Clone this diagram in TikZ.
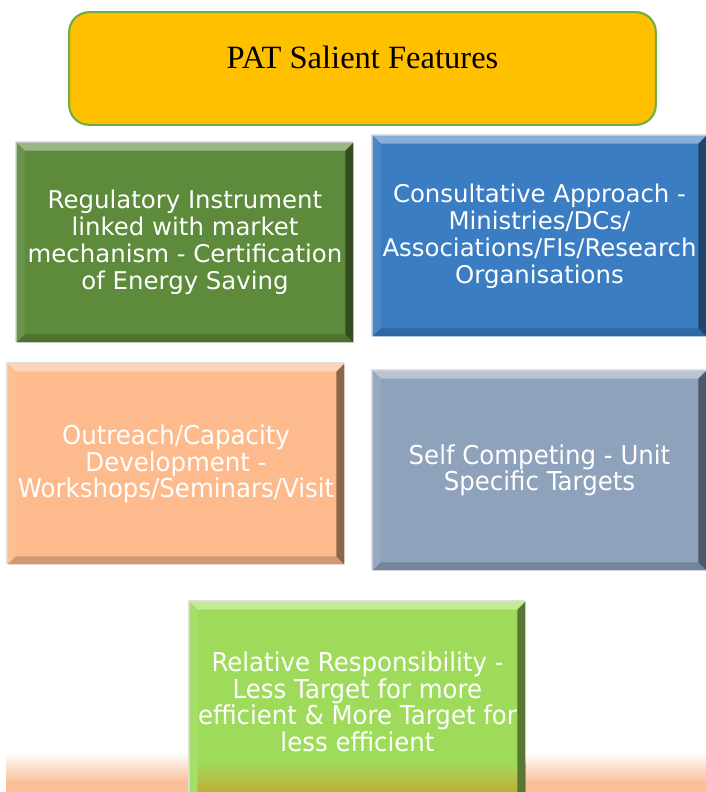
\documentclass[tikz,border=0pt]{standalone}
\usepackage{fontspec}
\setmainfont{Liberation Serif}
\newfontfamily\boxfont{DejaVu Sans}
\newfontfamily\condfont[FakeStretch=0.94]{DejaVu Sans}
\definecolor{titlefill}{HTML}{FFC000}
\definecolor{titleline}{HTML}{70AD47}
\definecolor{regcol}{HTML}{5D8B3B}
\definecolor{concol}{HTML}{3B7DC3}
\definecolor{outcol}{HTML}{FDBA8C}
\definecolor{selfcol}{HTML}{8EA2BB}
\definecolor{relcol}{HTML}{9FDB5B}
\definecolor{olive}{HTML}{BFAE34}
\definecolor{glow}{HTML}{FBBF98}
\newcommand{\bevel}[2]{%
  \draw [gray!25, line width=1.5pt] ([shift={(-1,0)}]#1.south west) -- ([shift={(-1,-1)}]#1.north west) -- ([shift={(0,-1)}]#1.north east);
  \fill [#2!62!white] (#1.north west) -- (#1.north east) -- ([shift={(-8,8)}]#1.north east) -- ([shift={(8,8)}]#1.north west) -- cycle;
  \fill [#2!92!white] (#1.north west) -- ([shift={(8,8)}]#1.north west) -- ([shift={(8,-8)}]#1.south west) -- (#1.south west) -- cycle;
  \fill [#2!82!black] (#1.south west) -- ([shift={(8,-8)}]#1.south west) -- ([shift={(-8,-8)}]#1.south east) -- (#1.south east) -- cycle;
  \fill [#2!55!black] (#1.north east) -- (#1.south east) -- ([shift={(-8,-8)}]#1.south east) -- ([shift={(-8,8)}]#1.north east) -- cycle;
}

\begin{document}
\begin{tikzpicture}[x=0.75pt,y=-0.75pt,
    featurebox/.style={inner sep=0pt,align=center,text=white,minimum width=252pt,minimum height=150pt,font=\boxfont\fontsize{18.3}{20.2}\selectfont},
    condbox/.style={featurebox,font=\condfont\fontsize{19.5}{19.9}\selectfont}]
  \clip (0,0) rectangle (706,792);
  \fill [white] (0,0) rectangle (706,792);
  \shade [top color=white, bottom color=glow] (6,752) rectangle (720,783);
  \fill [glow] (6,782) rectangle (720,800);
  \node [draw=titleline, line width=1.6pt, fill=titlefill, rounded corners=15pt, minimum width=440pt, minimum height=84.5pt] (title) at (362.5,68.5) {};
  \node [font=\fontsize{24.4}{28}\selectfont] (titletext) at (362.5,57) {PAT Salient Features};
  \node [featurebox, fill=regcol, minimum height=149.25pt] (regulatory) at (185,242.5) {Regulatory Instrument\\linked with market\\mechanism - Certification\\of Energy Saving};
  \bevel{regulatory}{regcol}
  \node [featurebox, fill=concol, minimum width=249.75pt] (consultative) at (539.5,236) {Consultative Approach -\\Ministries/DCs/\\Associations/FIs/Research\\Organisations};
  \bevel{consultative}{concol}
  \node [condbox, fill=outcol] (outreach) at (176,464) {Outreach/Capacity\\Development -\\Workshops/Seminars/Visit};
  \bevel{outreach}{outcol}
  \node [condbox, fill=selfcol, minimum width=249.75pt, minimum height=149.25pt] (selfcompeting) at (539.5,470.5) {Self Competing - Unit\\Specific Targets};
  \bevel{selfcompeting}{selfcol}
  \node [condbox, fill=relcol, minimum width=251.25pt] (relative) at (357.5,702) {};
  \shade [top color=relcol, bottom color=olive] (relative.west |- 0,762) rectangle (relative.east |- 0,792);
  \bevel{relative}{relcol}
  \node [condbox] (relativetext) at (relative) {Relative Responsibility -\\Less Target for more\\efficient \& More Target for\\less efficient};
\end{tikzpicture}
\end{document}
